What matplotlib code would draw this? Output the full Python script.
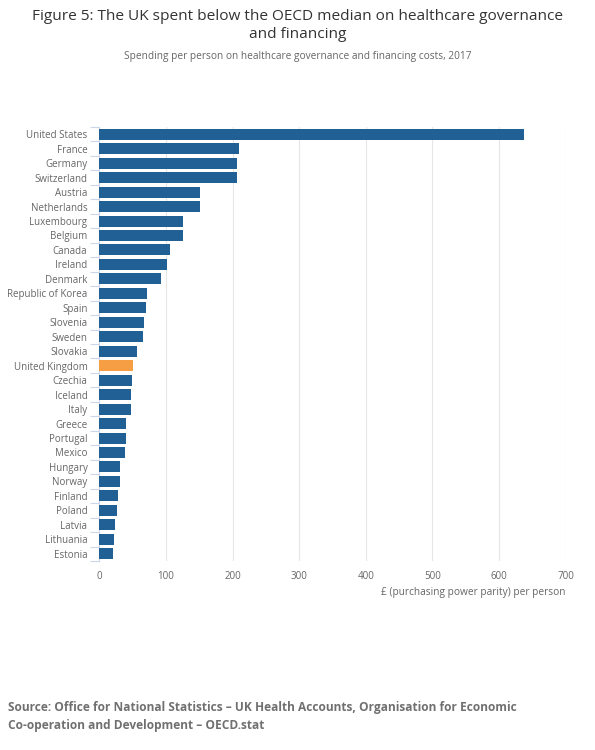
import matplotlib
matplotlib.use("Agg")
import matplotlib.pyplot as plt
import numpy as np

plt.rcParams['font.family'] = ['Open Sans', 'DejaVu Sans']

countries = [
    "United States", "France", "Germany", "Switzerland", "Austria",
    "Netherlands", "Luxembourg", "Belgium", "Canada", "Ireland", "Denmark",
    "Republic of Korea", "Spain", "Slovenia", "Sweden", "Slovakia",
    "United Kingdom", "Czechia", "Iceland", "Italy", "Greece", "Portugal",
    "Mexico", "Hungary", "Norway", "Finland", "Poland", "Latvia",
    "Lithuania", "Estonia",
]
spend = [
    637, 209, 206, 206, 151, 151, 126, 125, 106, 102, 92,
    71, 70, 67, 65, 57, 51, 49.5, 48, 48, 40.5, 39.5,
    38, 30.5, 31, 28, 26.5, 24, 21.5, 20.5,
]
highlight = "United Kingdom"
x_ticks = [0, 100, 200, 300, 400, 500, 600, 700]

blue = "#206095"
orange = "#f59e43"
text_grey = "#666666"

fig = plt.figure(figsize=(5.95, 7.5), dpi=100)
ax = fig.add_axes([99.3 / 595, 1 - 561 / 750, (565.7 - 99.3) / 595, (561 - 127) / 750])

ypos = np.arange(len(countries))
colors = [orange if c == highlight else blue for c in countries]
ax.barh(ypos, spend, height=0.76, color=colors, zorder=3)

ax.set_xlim(0, 700)
ax.set_ylim(len(countries) - 0.5, -0.5)
ax.set_xticks(x_ticks)
ax.set_xticklabels([str(t) for t in x_ticks])
ax.set_yticks(ypos)
ax.set_yticklabels(countries)
ax.set_yticks(np.arange(len(countries) + 1) - 0.5, minor=True)

ax.grid(axis='x', color='#e6e6e6', linewidth=0.8, zorder=0)
for s in ['top', 'right', 'bottom']:
    ax.spines[s].set_visible(False)
ax.spines['left'].set_color('#ccd6eb')
ax.spines['left'].set_linewidth(0.8)

ax.tick_params(axis='x', length=0, pad=7, labelsize=7, labelcolor=text_grey)
ax.tick_params(axis='y', which='major', length=0, pad=8.5, labelsize=7, labelcolor=text_grey)
ax.tick_params(axis='y', which='minor', length=6.5, width=0.8, color='#ccd6eb')

ax.set_xlabel("£ (purchasing power parity) per person", fontsize=7.3,
              color=text_grey, loc='right', labelpad=4)

fig.text(0.5, 1 - 16.5 / 750, "Figure 5: The UK spent below the OECD median on healthcare governance",
         ha='center', va='center', fontsize=11.1, color='#333333')
fig.text(0.5, 1 - 34.5 / 750, "and financing",
         ha='center', va='center', fontsize=11.1, color='#333333')
fig.text(0.5, 1 - 56 / 750, "Spending per person on healthcare governance and financing costs, 2017",
         ha='center', va='center', fontsize=7.3, color=text_grey)

fig.text(8 / 595, 1 - 707.5 / 750,
         "Source: Office for National Statistics – UK Health Accounts, Organisation for Economic",
         ha='left', va='center', fontsize=8.6, fontweight='bold', color='#707070')
fig.text(8 / 595, 1 - 725.5 / 750,
         "Co-operation and Development – OECD.stat",
         ha='left', va='center', fontsize=8.6, fontweight='bold', color='#707070')

fig.savefig("out.png", dpi=100)
